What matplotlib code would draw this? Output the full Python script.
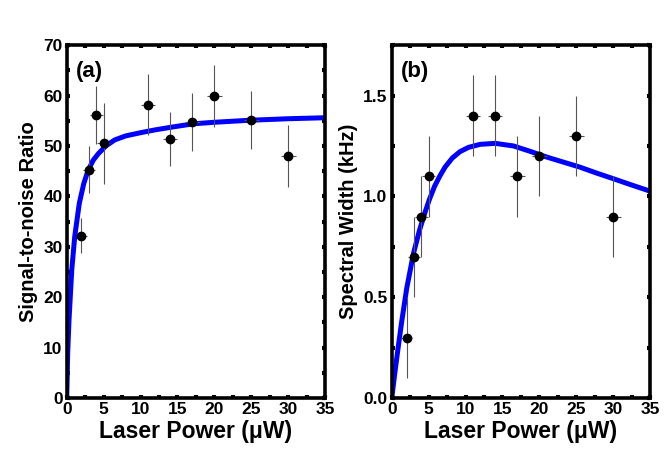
import numpy as np
import matplotlib
matplotlib.use('Agg')
import matplotlib.pyplot as plt
from matplotlib.ticker import MultipleLocator

plt.rcParams['font.family'] = ['Liberation Sans', 'DejaVu Sans']
plt.rcParams['font.weight'] = 'bold'

# Measured points (laser power in uW)
power = [2, 3, 4, 5, 11, 14, 17, 20, 25, 30]
power_err = [0.8, 0.8, 0.9, 0.9, 1.0, 1.0, 1.0, 1.0, 1.0, 1.0]

snr = [32.2, 45.3, 56.1, 50.5, 58.2, 51.4, 54.8, 59.9, 55.2, 48.0]
snr_err = [3.5, 4.7, 5.7, 8.0, 6.0, 5.3, 5.8, 6.2, 5.8, 6.2]

width = [0.3, 0.7, 0.9, 1.1, 1.4, 1.4, 1.1, 1.2, 1.3, 0.9]
width_err = [0.2, 0.2, 0.2, 0.2, 0.2, 0.2, 0.2, 0.2, 0.2, 0.2]

# Fit curves
fit_p_a = [0, 0.13, 0.31, 0.68, 1.08, 1.7, 2.3, 2.9, 3.6, 4.3, 5.3, 6.5, 8, 9.9, 12, 14.5, 17.2, 20, 24.8, 30, 35]
fit_snr = [0, 8.9, 15.5, 25.4, 32.0, 38.6, 42.5, 45.2, 47.2, 48.5, 50.0, 51.2, 52.0, 52.6, 53.2, 53.8, 54.4, 54.7, 55.1, 55.4, 55.6]

fit_p_b = [0, 0.4, 0.81, 1.35, 2.03, 2.93, 3.74, 4.5, 5.1, 5.8, 6.5, 7.22, 8.2, 9.25, 10.4, 11.96, 14.0,
           16.5, 18.7, 21.0, 23.25, 25.5, 27.8, 30.0, 32.3, 35]
fit_width = [0, 0.12, 0.235, 0.38, 0.545, 0.715, 0.83, 0.92, 0.985, 1.05, 1.10, 1.145, 1.19, 1.222, 1.243, 1.258,
             1.263, 1.25, 1.224, 1.195, 1.17, 1.145, 1.115, 1.088, 1.059, 1.026]

fig = plt.figure(figsize=(6.64, 4.70), dpi=100)
ax1 = fig.add_axes([0.1005, 0.153, 0.389, 0.751])
ax2 = fig.add_axes([0.590, 0.153, 0.389, 0.751])


def style_axes(ax):
    for s in ax.spines.values():
        s.set_linewidth(2.6)
    ax.tick_params(which='both', direction='in', top=True, right=True,
                   length=2.5, width=3, labelsize=12.5, pad=3)
    ax.set_xlim(0, 35)
    ax.xaxis.set_major_locator(MultipleLocator(5))
    ax.xaxis.set_minor_locator(MultipleLocator(2.5))
    ax.set_xlabel('Laser Power (μW)', fontsize=16.5, fontweight='bold', labelpad=2)


# (a) signal-to-noise
ax1.plot(fit_p_a, fit_snr, color='#0000ff', lw=3.6, solid_capstyle='butt', zorder=2)
ax1.errorbar(power, snr, xerr=power_err, yerr=snr_err, fmt='o', color='black', ms=6,
             ecolor='#555555', elinewidth=0.8, capsize=0, zorder=3)
ax1.set_ylim(0, 70)
ax1.yaxis.set_major_locator(MultipleLocator(10))
ax1.yaxis.set_minor_locator(MultipleLocator(5))
ax1.set_ylabel('Signal-to-noise Ratio', fontsize=14.5, fontweight='bold', labelpad=4)
ax1.text(0.035, 0.955, '(a)', transform=ax1.transAxes, fontsize=16, fontweight='bold', va='top')
style_axes(ax1)

# (b) spectral width
ax2.plot(fit_p_b, fit_width, color='#0000ff', lw=3.6, solid_capstyle='butt', zorder=2)
ax2.errorbar(power, width, xerr=power_err, yerr=width_err, fmt='o', color='black', ms=6,
             ecolor='#555555', elinewidth=0.8, capsize=0, zorder=3)
ax2.set_ylim(0, 1.75)
ax2.yaxis.set_major_locator(MultipleLocator(0.5))
ax2.yaxis.set_minor_locator(MultipleLocator(0.25))
ax2.yaxis.set_major_formatter(matplotlib.ticker.FormatStrFormatter('%.1f'))
ax2.set_ylabel('Spectral Width (kHz)', fontsize=14.5, fontweight='bold', labelpad=4)
ax2.text(0.035, 0.955, '(b)', transform=ax2.transAxes, fontsize=16, fontweight='bold', va='top')
style_axes(ax2)

fig.savefig('out.png', dpi=100)
